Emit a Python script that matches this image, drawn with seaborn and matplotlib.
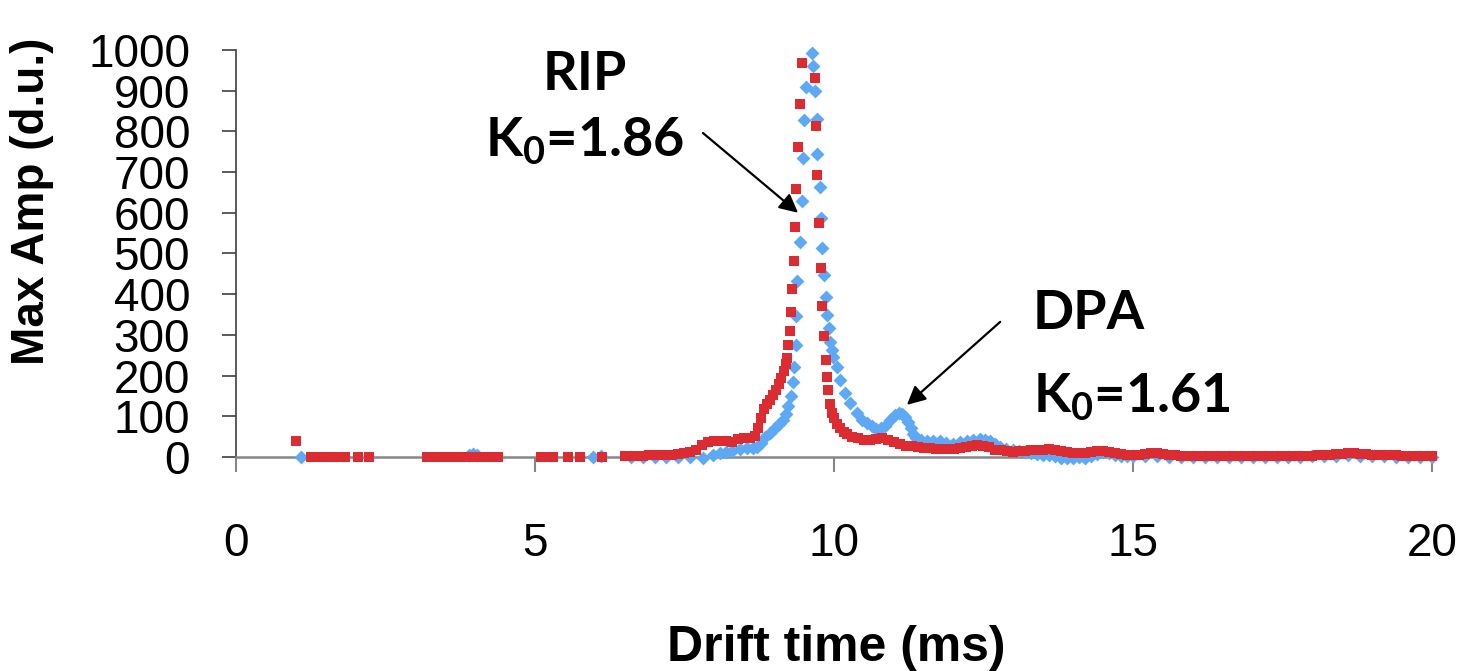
import matplotlib
matplotlib.use('Agg')
import matplotlib.pyplot as plt
import seaborn as sns

# drift time (ms) / max amplitude (d.u.)
red_t = [1.00, 1.25, 1.33, 1.41, 1.49, 1.57, 1.65, 1.73, 1.82, 2.04, 2.22,
         3.19, 3.27, 3.35, 3.43, 3.51, 3.59, 3.67, 3.75, 3.83, 3.91, 3.99, 4.07, 4.15, 4.23, 4.31, 4.39,
         5.11, 5.20, 5.30, 5.55, 5.76, 6.12,
         6.50, 6.60, 6.70, 6.80, 6.90, 7.00, 7.10, 7.20, 7.30, 7.40, 7.50, 7.60, 7.70, 7.80, 7.90,
         8.00, 8.10, 8.20, 8.30, 8.40, 8.50, 8.60, 8.68, 8.73, 8.78, 8.83, 8.88, 8.93, 8.98,
         9.03, 9.08, 9.12, 9.16, 9.19, 9.21, 9.24, 9.26, 9.28, 9.30, 9.33, 9.35, 9.37, 9.40, 9.43, 9.46,
         9.68, 9.70, 9.72, 9.75, 9.78, 9.80, 9.83, 9.86, 9.88, 9.90, 9.93, 9.96,
         10.00, 10.05, 10.10, 10.16, 10.22, 10.30, 10.40, 10.50, 10.60, 10.70, 10.80, 10.90,
         11.00, 11.10, 11.20, 11.30, 11.40, 11.50, 11.60, 11.70, 11.80, 11.90,
         12.00, 12.10, 12.20, 12.30, 12.40, 12.50, 12.60, 12.70, 12.80, 12.90,
         13.00, 13.10, 13.20, 13.30, 13.40, 13.50, 13.60, 13.70, 13.80, 13.90,
         14.00, 14.10, 14.20, 14.30, 14.40, 14.50, 14.60, 14.70, 14.80, 14.90,
         15.00, 15.10, 15.20, 15.30, 15.40, 15.50, 15.60, 15.70, 15.80, 15.90,
         16.00, 16.10, 16.20, 16.30, 16.40, 16.50, 16.60, 16.70, 16.80, 16.90,
         17.00, 17.10, 17.20, 17.30, 17.40, 17.50, 17.60, 17.70, 17.80, 17.90,
         18.00, 18.10, 18.20, 18.30, 18.40, 18.50, 18.60, 18.70, 18.80, 18.90,
         19.00, 19.10, 19.20, 19.30, 19.40, 19.50, 19.60, 19.70, 19.80, 19.90, 20.00]
red_amp = [38, 0, 0, 0, 0, 0, 0, 0, 0, 0, 0,
           0, 0, 0, 0, 0, 0, 0, 0, 0, 0, 0, 0, 0, 0, 0, 0,
           0, 0, 0, 0, 0, 0,
           2, 2, 3, 3, 4, 4, 5, 6, 6, 8, 10, 12, 18, 30, 36,
           40, 40, 38, 37, 44, 46, 47, 52, 70, 95, 118, 130, 140, 152,
           165, 180, 195, 210, 228, 242, 275, 310, 355, 412, 482, 564, 659, 762, 867, 967,
           930, 814, 693, 574, 465, 371, 296, 238, 197, 165, 130, 108,
           95, 82, 70, 62, 56, 50, 46, 42, 42, 45, 46, 42,
           36, 32, 28, 26, 24, 22, 21, 20, 19, 19,
           20, 21, 25, 28, 29, 28, 24, 18, 16, 14,
           13, 14, 15, 16, 17, 18, 19, 17, 14, 11,
           9, 9, 10, 13, 15, 15, 13, 10, 7, 5,
           5, 6, 8, 9, 9, 7, 5, 4, 3, 2,
           2, 2, 2, 2, 2, 2, 2, 2, 2, 2,
           2, 2, 2, 2, 3, 3, 2, 2, 2, 3,
           3, 4, 5, 6, 7, 8, 9, 9, 8, 7,
           6, 5, 5, 4, 4, 3, 3, 3, 2, 2, 2]

blue_t = [1.09, 3.90, 3.97, 4.04, 5.97, 6.10,
          6.60, 6.80, 7.00, 7.20, 7.40, 7.60, 7.81, 7.98, 8.10, 8.20, 8.30, 8.43, 8.55, 8.65, 8.71,
          8.78, 8.85, 8.93, 9.01, 9.08, 9.15, 9.20, 9.24, 9.29, 9.32, 9.34, 9.36, 9.37, 9.39,
          9.43, 9.46, 9.48, 9.50, 9.53, 9.64, 9.65, 9.68, 9.71, 9.72, 9.77, 9.78, 9.80, 9.83,
          9.86, 9.89, 9.91, 9.94, 9.96, 9.99,
          10.05, 10.10, 10.18, 10.27, 10.38, 10.47, 10.55, 10.63, 10.71, 10.78, 10.85, 10.94,
          11.02, 11.08, 11.14, 11.19, 11.24, 11.28, 11.33, 11.38, 11.46, 11.55, 11.65, 11.77, 11.88, 11.99,
          12.10, 12.22, 12.33, 12.44, 12.52, 12.61, 12.70, 12.78, 12.88,
          13.00, 13.10, 13.20, 13.30, 13.40, 13.50, 13.60, 13.70, 13.80, 13.90,
          14.00, 14.10, 14.20, 14.30, 14.40, 14.50, 14.60, 14.70, 14.80, 14.90,
          15.00, 15.20, 15.40, 15.60, 15.80, 16.00, 16.20, 16.40, 16.60, 16.80,
          17.00, 17.20, 17.40, 17.60, 17.80, 18.00, 18.20, 18.40, 18.60, 18.80,
          19.00, 19.20, 19.40, 19.60, 19.80, 20.00]
blue_amp = [0, 6, 8, 6, 0, 2,
            0, 0, 0, 0, 0, 0, -3, 5, 9, 13, 15, 19, 21, 23, 24,
            35, 50, 60, 70, 80, 91, 105, 124, 150, 185, 222, 275, 346, 433,
            529, 630, 734, 828, 908, 993, 961, 900, 830, 744, 663, 586, 513, 447,
            394, 349, 318, 283, 262, 246,
            222, 189, 157, 132, 107, 92, 83, 75, 68, 70, 76, 91,
            102, 107, 105, 99, 86, 72, 57, 46, 42, 40, 39, 38, 35, 33,
            36, 40, 42, 43, 41, 38, 31, 25, 20,
            17, 14, 12, 10, 8, 6, 4, 2, -2, -3,
            -2, 0, -3, 2, 8, 12, 10, 6, 3, 2,
            2, 3, 2, 1, 1, 1, 1, 1, 1, 1,
            1, 1, 1, 1, 1, 2, 2, 3, 4, 3,
            2, 2, 1, 1, 1, 1]

x_ticks = [0, 5, 10, 15, 20]
y_ticks = [0, 100, 200, 300, 400, 500, 600, 700, 800, 900, 1000]

sns.set_style('white')
plt.rcParams['font.family'] = ['Liberation Sans', 'DejaVu Sans']
plt.rcParams['text.color'] = 'black'
plt.rcParams['xtick.labelcolor'] = 'black'
plt.rcParams['ytick.labelcolor'] = 'black'
plt.rcParams['mathtext.fontset'] = 'custom'
plt.rcParams['mathtext.rm'] = 'Lato:bold'
plt.rcParams['mathtext.default'] = 'rm'

fig = plt.figure(figsize=(14.65, 6.71), dpi=100)
ax = fig.add_axes([0.161, 0.319, 0.8165, 0.6065])

sns.scatterplot(x=blue_t, y=blue_amp, marker='D', color='#5DA9F5', s=50,
                linewidth=0, ax=ax, clip_on=False, zorder=3)
sns.scatterplot(x=red_t, y=red_amp, marker='s', color='#DC2B31', s=62,
                linewidth=0, ax=ax, clip_on=False, zorder=4)

ax.set_xlim(0, 20)
ax.set_ylim(0, 1000)
ax.set_xticks(x_ticks)
ax.set_yticks(y_ticks)
ax.tick_params(axis='y', direction='out', length=10, width=1.2, color='#404040',
               labelsize=33, pad=23, left=True)
ax.tick_params(axis='x', direction='out', length=11, width=1.5, color='#868686',
               labelsize=33, pad=36, bottom=True)
for s in ['top', 'right']:
    ax.spines[s].set_visible(False)
ax.spines['left'].set_color('#404040')
ax.spines['left'].set_linewidth(1.2)
ax.spines['bottom'].set_color('#868686')
ax.spines['bottom'].set_linewidth(1.8)

fig.text(0.022, 0.70, 'Max Amp (d.u.)', rotation=90, fontsize=33, fontweight='bold',
         ha='center', va='center')
fig.text(0.571, 0.035, 'Drift time (ms)', fontsize=36, fontweight='bold',
         ha='center', va='center')

lbl = dict(fontsize=39, fontweight='bold', family='Lato', color='black')
ax.text(5.84, 902, 'RIP', ha='center', va='baseline', **lbl)
ax.text(5.84, 737, r'K$_{0}$=1.86', ha='center', va='baseline', **lbl)
ax.text(13.33, 314, 'DPA', ha='left', va='baseline', **lbl)
ax.text(13.33, 108, r'K$_{0}$=1.61', ha='left', va='baseline', **lbl)

arrow = dict(arrowstyle='-|>', color='black', lw=1.6, mutation_scale=28, shrinkA=0, shrinkB=0)
ax.annotate('', xy=(9.40, 600), xytext=(7.81, 796), arrowprops=arrow)
ax.annotate('', xy=(11.22, 128), xytext=(12.78, 332), arrowprops=arrow)

plt.savefig('out.png', dpi=100)
